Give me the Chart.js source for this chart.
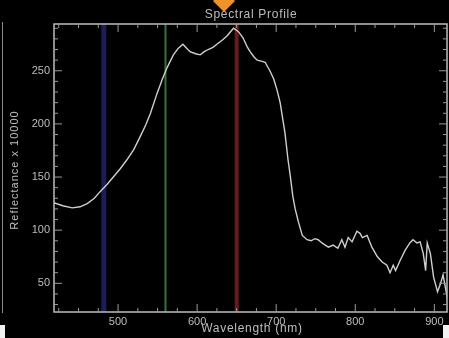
<!DOCTYPE html>
<html>
<head>
<meta charset="utf-8">
<title>Spectral Profile</title>
<script src="https://cdn.jsdelivr.net/npm/chart.js@4.4.1/dist/chart.umd.min.js"></script>
<style>
  html, body { margin: 0; padding: 0; background: #000; }
  #chart { display: block; filter: blur(0.35px); }
</style>
</head>
<body>
<canvas id="chart" width="449" height="338"></canvas>
<script>
/* ── Data ────────────────────────────────────────────── */
const wavelengths = [
  418, 430, 442, 452, 461, 470, 477, 486, 494, 503,
  511, 520, 528, 535, 541, 549, 556, 562, 570, 576,
  582, 587, 591, 598, 604, 609, 614, 620, 625, 632,
  638, 646, 652, 658, 663, 667, 672, 676, 681, 686,
  692, 697, 701, 705, 708, 711, 715, 718, 721, 724,
  728, 733, 739, 744, 749, 753, 758, 762, 766, 772,
  778, 783, 787, 791, 796, 802, 806, 809, 815, 821,
  828, 834, 840, 844, 848, 851, 857, 863, 869, 873,
  878, 882, 886, 889, 891, 895, 899, 904, 908, 911,
  914, 917
];
const reflectance = [
  126, 123, 121, 122, 125, 130, 136, 143, 150, 158,
  166, 176, 188, 199, 210, 228, 242, 253, 265, 271,
  275, 271, 268, 266, 265, 268, 270, 272, 275, 279,
  283, 290, 287, 281, 273, 268, 263, 260, 259, 258,
  250, 242, 232, 220, 206, 192, 166, 150, 132, 120,
  108, 95, 91, 90, 92, 91, 88, 86, 84, 86,
  83, 91, 84, 93, 89, 99, 97, 93, 95, 84,
  75, 70, 67, 60, 67, 62, 72, 81, 88, 91,
  88, 89, 78, 62, 88, 78, 56, 42, 50, 58,
  46, 34
];

// band markers (blue / green / red)
const bandNames  = ['Blue', 'Green', 'Red'];
const bandWaves  = [482, 560, 650];
const bandColors = ['#1c1c58', '#337440', '#661c1c'];
const bandWidths = [5, 2, 4];

const xTicks = [500, 600, 700, 800, 900];
const yTicks = [50, 100, 150, 200, 250];
const X_MIN = 419, X_MAX = 916;
const Y_MIN = 23,  Y_MAX = 294;

const FG = '#bdbdbd';
const FONT = '"Liberation Sans", Arial, sans-serif';

/* ── Frame, inward ticks, titles ──────────────────────── */
const idlFrame = {
  id: 'idlFrame',
  afterDraw(chart) {
    const { ctx, chartArea: a, scales: { x, y } } = chart;
    ctx.save();
    ctx.strokeStyle = FG;
    ctx.lineWidth = 1.5;
    ctx.strokeRect(a.left, a.top, a.right - a.left, a.bottom - a.top);

    ctx.strokeStyle = '#9a9a9a';
    ctx.lineWidth = 1;
    ctx.beginPath();
    for (let v = 425; v <= X_MAX; v += 25) {
      const px = x.getPixelForValue(v);
      const len = v % 100 === 0 ? 8 : 4;
      ctx.moveTo(px, a.bottom); ctx.lineTo(px, a.bottom - len);
      ctx.moveTo(px, a.top);    ctx.lineTo(px, a.top + len);
    }
    for (let v = 30; v <= Y_MAX; v += 10) {
      const py = y.getPixelForValue(v);
      const len = v % 50 === 0 ? 8 : 4;
      ctx.moveTo(a.left, py);  ctx.lineTo(a.left + len, py);
      ctx.moveTo(a.right, py); ctx.lineTo(a.right - len, py);
    }
    ctx.stroke();

    // titles
    ctx.fillStyle = FG;
    ctx.textAlign = 'center';
    ctx.textBaseline = 'middle';
    ctx.font = '12px ' + FONT;
    ctx.letterSpacing = '0.7px';
    ctx.fillText('Spectral Profile', 251, 15);
    ctx.fillText('Wavelength (nm)', 252, 329);
    ctx.font = '11px ' + FONT;
    ctx.letterSpacing = '1px';
    ctx.translate(15, 170);
    ctx.rotate(-Math.PI / 2);
    ctx.fillText('Reflectance x 10000', 0, 0);
    ctx.restore();

    // bits of the surrounding viewer
    ctx.save();
    ctx.strokeStyle = '#8a8a8a';
    ctx.lineWidth = 1;
    ctx.beginPath();
    ctx.moveTo(2.5, 22); ctx.lineTo(2.5, 313);
    ctx.stroke();
    ctx.fillStyle = '#f2f2f2';
    ctx.fillRect(0, 325, 5, 13);
    ctx.fillRect(443, 325, 6, 13);
    ctx.fillStyle = '#f0922c';
    ctx.beginPath();
    ctx.moveTo(213, 1); ctx.lineTo(224, -10); ctx.lineTo(235, 1); ctx.lineTo(224, 12);
    ctx.closePath();
    ctx.fill();
    ctx.restore();
  }
};

/* ── Chart ────────────────────────────────────────────── */
const profile = wavelengths.map((w, i) => ({ x: w, y: reflectance[i] }));

const bandSets = bandWaves.map((w, i) => ({
  label: bandNames[i],
  data: [{ x: w, y: Y_MIN }, { x: w, y: Y_MAX }],
  borderColor: bandColors[i],
  borderWidth: bandWidths[i],
  pointRadius: 0,
  order: 2,
}));

new Chart(document.getElementById('chart'), {
  type: 'line',
  data: {
    datasets: [
      {
        label: 'Spectral Profile',
        data: profile,
        borderColor: '#cfcfcf',
        borderWidth: 1.4,
        pointRadius: 0,
        tension: 0,
        order: 1,
      },
      ...bandSets,
    ]
  },
  options: {
    responsive: false,
    animation: false,
    devicePixelRatio: 1,
    layout: { padding: { top: 24, right: 2, left: 0, bottom: 0 } },
    plugins: { legend: { display: false }, tooltip: { enabled: false } },
    scales: {
      x: {
        type: 'linear',
        min: X_MIN, max: X_MAX,
        afterBuildTicks: s => { s.ticks = xTicks.map(v => ({ value: v })); },
        afterFit: s => { s.height = 26; },
        grid: { display: false, drawTicks: false },
        border: { display: false },
        ticks: { color: FG, font: { family: FONT, size: 11 }, padding: 3, maxRotation: 0 },
      },
      y: {
        type: 'linear',
        min: Y_MIN, max: Y_MAX,
        afterBuildTicks: s => { s.ticks = yTicks.map(v => ({ value: v })); },
        afterFit: s => { s.width = 54; },
        grid: { display: false, drawTicks: false },
        border: { display: false },
        ticks: { color: FG, font: { family: FONT, size: 11 }, padding: 4 },
      }
    }
  },
  plugins: [idlFrame]
});
</script>
</body>
</html>
